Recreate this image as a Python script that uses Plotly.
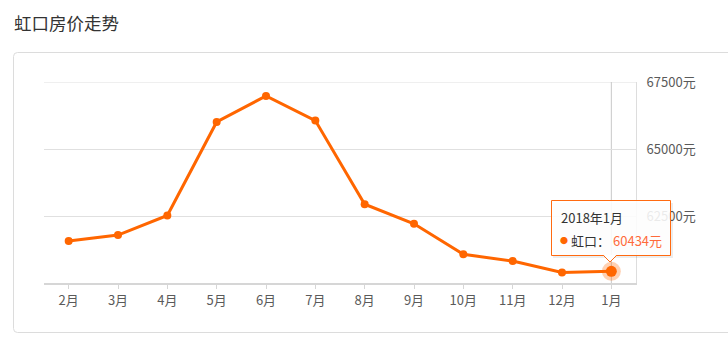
import plotly.graph_objects as go

# ---------------- data ----------------
months = ["2月", "3月", "4月", "5月", "6月", "7月", "8月", "9月", "10月", "11月", "12月", "1月"]
prices = [61570, 61790, 62520, 66010, 66980, 66060, 62940, 62210, 61070, 60820, 60390, 60434]
y_ticks = [62500, 65000, 67500]
y_range = [60000, 67500]
title_text = "虹口房价走势"
series_name = "虹口"
tooltip_title = "2018年1月"
unit = "元"

# ---------------- layout helpers ----------------
W, H = 728, 343
L, R, T, B = 44, 92, 82, 60
PW = W - L - R
PH = H - T - B


def px(x):
    return (x - L) / PW


def py(y):
    return (H - B - y) / PH


FONT = "Noto Sans CJK SC"
ORANGE = "#ff6600"
TIP_BORDER = "#ff6a10"
VALUE_COLOR = "#ff6a3a"
GRID = "#e0e0e0"

fig = go.Figure()

fig.add_trace(go.Scatter(
    x=months, y=prices, mode="lines+markers",
    line=dict(color=ORANGE, width=3),
    marker=dict(size=8, color=ORANGE),
    hoverinfo="skip", showlegend=False,
))
# highlighted (hovered) last point
fig.add_trace(go.Scatter(
    x=[months[-1]], y=[prices[-1]], mode="markers",
    marker=dict(size=19, color="rgba(255,102,0,0.3)"),
    hoverinfo="skip", showlegend=False,
))
fig.add_trace(go.Scatter(
    x=[months[-1]], y=[prices[-1]], mode="markers",
    marker=dict(size=11, color=ORANGE),
    hoverinfo="skip", showlegend=False,
))

shapes = []
# card border with rounded left corners
r = 4
x0, y0, x1, y1 = 13.5, 52.5, 740, 332.5
path = (
    f"M{px(x0 + r)},{py(y0)} L{px(x1)},{py(y0)} L{px(x1)},{py(y1)} L{px(x0 + r)},{py(y1)} "
    f"Q{px(x0)},{py(y1)} {px(x0)},{py(y1 - r)} L{px(x0)},{py(y0 + r)} "
    f"Q{px(x0)},{py(y0)} {px(x0 + r)},{py(y0)}"
)
shapes.append(dict(type="path", xref="paper", yref="paper", path=path,
                   line=dict(color="#dcdcdc", width=1), layer="below"))
# top grid line (at the top edge of the value range)
shapes.append(dict(type="line", xref="paper", yref="y", x0=0, x1=1,
                   y0=y_ticks[-1], y1=y_ticks[-1], line=dict(color=GRID, width=1), layer="below"))
# axis pointer line
shapes.append(dict(type="line", xref="x", yref="paper", x0=len(months) - 1, x1=len(months) - 1,
                   y0=0, y1=1, line=dict(color="#c8c8c8", width=1), layer="below"))
# tooltip shadow
shapes.append(dict(type="rect", xref="paper", yref="paper",
                   x0=px(553), x1=px(673), y0=py(203), y1=py(258),
                   fillcolor="rgba(0,0,0,0.07)", line=dict(width=0), layer="above"))
# tooltip box
shapes.append(dict(type="rect", xref="paper", yref="paper",
                   x0=px(551.5), x1=px(670.5), y0=py(200.5), y1=py(255.5),
                   fillcolor="rgba(255,255,255,0.88)", line=dict(color=TIP_BORDER, width=1), layer="above"))
# tooltip pointer
tri = f"M{px(603.5)},{py(255)} L{px(610)},{py(261.5)} L{px(616.5)},{py(255)} Z"
shapes.append(dict(type="path", xref="paper", yref="paper", path=tri,
                   fillcolor="white", line=dict(width=0), layer="above"))
tri2 = f"M{px(603.5)},{py(255.5)} L{px(610)},{py(262)} L{px(616.5)},{py(255.5)}"
shapes.append(dict(type="path", xref="paper", yref="paper", path=tri2,
                   fillcolor="rgba(0,0,0,0)", line=dict(color=TIP_BORDER, width=1), layer="above"))

annotations = [
    dict(text=title_text, xref="paper", yref="paper", x=px(12), y=py(22.5),
         xanchor="left", yanchor="middle", showarrow=False,
         font=dict(family=FONT, size=17.5, color="#333333")),
    dict(text=tooltip_title, xref="paper", yref="paper", x=px(558.5), y=py(217.5),
         xanchor="left", yanchor="middle", showarrow=False,
         font=dict(family=FONT, size=13, color="#333333")),
    dict(text="●", xref="paper", yref="paper", x=px(558), y=py(240.5),
         xanchor="left", yanchor="middle", showarrow=False,
         font=dict(family=FONT, size=8, color=ORANGE)),
    dict(text=f"{series_name}：", xref="paper", yref="paper", x=px(568.5), y=py(240.5),
         xanchor="left", yanchor="middle", showarrow=False,
         font=dict(family=FONT, size=13, color="#333333")),
    dict(text=f"{prices[-1]}{unit}", xref="paper", yref="paper", x=px(610.5), y=py(240.5),
         xanchor="left", yanchor="middle", showarrow=False,
         font=dict(family=FONT, size=13, color=VALUE_COLOR)),
]

fig.update_layout(
    width=W, height=H,
    margin=dict(l=L, r=R, t=T, b=B, pad=0),
    paper_bgcolor="white", plot_bgcolor="white",
    font=dict(family=FONT, size=13, color="#666666"),
    hovermode=False,
    showlegend=False,
    shapes=shapes,
    annotations=annotations,
    xaxis=dict(
        type="category", range=[-0.5, len(months) - 0.5],
        showgrid=False, zeroline=False,
        showline=True, linecolor="#d6d6d6", linewidth=2,
        ticks="outside", ticklen=4, tickcolor="#d6d6d6", tickwidth=1,
        tickfont=dict(family=FONT, size=13, color="#5a5a5a"),
        fixedrange=True,
    ),
    yaxis=dict(
        side="right", range=y_range,
        tickmode="array", tickvals=y_ticks,
        ticktext=[f"{v}{unit}" for v in y_ticks],
        showgrid=True, gridcolor=GRID, gridwidth=1,
        zeroline=False,
        showline=True, linecolor="#dddddd", linewidth=1,
        ticks="", ticklabelstandoff=7,
        tickfont=dict(family=FONT, size=13, color="#5a5a5a"),
        fixedrange=True,
    ),
)

fig.write_html("out.html")
